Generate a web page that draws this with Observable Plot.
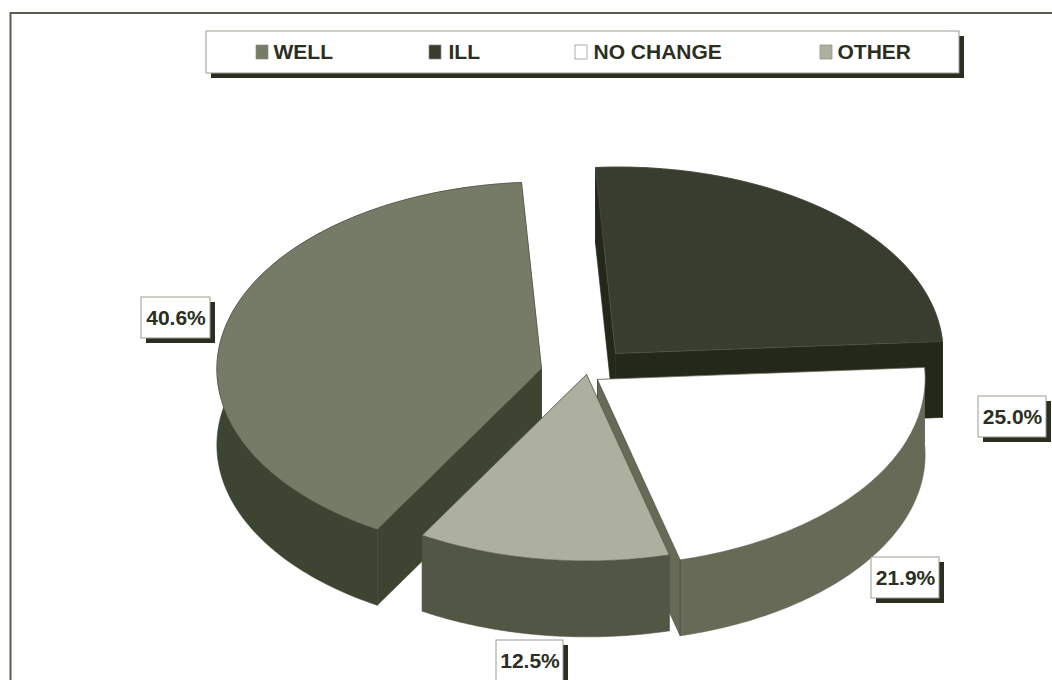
<!DOCTYPE html>
<html>
<head>
<meta charset="utf-8">
<script src="https://cdn.jsdelivr.net/npm/d3@7"></script>
<script src="https://cdn.jsdelivr.net/npm/@observablehq/plot@0.6"></script>
<style>
  html, body { margin: 0; padding: 0; background: #fff; }
  svg { display: block; }
</style>
</head>
<body>
<div id="chart"></div>
<script>
// Outcome shares, in the order the pie is dealt clockwise from twelve o'clock
const categories = ["ILL", "NO CHANGE", "OTHER", "WELL"];
const shares = [25.0, 21.9, 12.5, 40.6];

// Grey shades for each slice
const topShades = {"WELL": "#767b67", "ILL": "#393d2f", "NO CHANGE": "#ffffff", "OTHER": "#adb09e"};
const wallShades = {"WELL": "#3e4432", "ILL": "#24281b", "NO CHANGE": "#666a57", "OTHER": "#525644"};

// Where each slice's tip lands once the pie is pulled apart
const tips = {"ILL": [615, 353], "NO CHANGE": [597, 379], "OTHER": [586, 374], "WELL": [541, 368]};

const W = 1052, H = 680;
const depth = 76;
const ink = "#2b2f22";

// Tilted disc: angle is measured clockwise from the top, with mild foreshortening across the width
function project(name, turn, drop = 0) {
  const s = Math.sin(turn), c = Math.cos(turn);
  const k = 1 / (1 - 0.0046 * s);
  const [tx, ty] = tips[name];
  return [tx + k * (325.5 * s - 20 * c), ty + k * (-12 * s - 186 * c) + drop];
}

// Polygons for the slices, pushed back to front
const total = d3.sum(shares);
let running = 0;
const spans = {};
categories.forEach((name, i) => {
  const a0 = (running / total) * 2 * Math.PI;
  running += shares[i];
  spans[name] = [a0, (running / total) * 2 * Math.PI];
});

function rim(name, drop = 0) {
  const [a0, a1] = spans[name];
  return d3.range(0, 121).map(i => project(name, a0 + (a1 - a0) * i / 120, drop));
}
function tip(name, drop = 0) {
  return [tips[name][0], tips[name][1] + drop];
}

const polygons = [];
function addPolygon(id, fill, stroke, pts) {
  [...pts, pts[0]].forEach(([x, y]) => polygons.push({id, fill, stroke, x, y}));
}
function addSlice(name) {
  const top = rim(name), bottom = rim(name, depth);
  const wall = wallShades[name];
  // the white slice keeps a dark seam where its closing cut face meets the outer wall
  const seam = name === "NO CHANGE" ? "#33372a" : wall;
  addPolygon(name + " wall", wall, wall, [...top, ...bottom.slice().reverse()]);
  addPolygon(name + " start face", wall, wall, [tip(name), top[0], bottom[0], tip(name, depth)]);
  addPolygon(name + " end face", wall, seam, [tip(name), top[120], bottom[120], tip(name, depth)]);
  addPolygon(name + " lid", topShades[name], "#55594a", [tip(name), ...top]);
}
["ILL", "NO CHANGE", "WELL", "OTHER"].forEach(addSlice);

// Legend and value callouts
const legendLayout = [
  {name: "WELL", swatch: 256, text: 273},
  {name: "ILL", swatch: 429, text: 448},
  {name: "NO CHANGE", swatch: 575, text: 593},
  {name: "OTHER", swatch: 820, text: 837}
];
const callouts = [
  {name: "WELL", x1: 141, x2: 210, y1: 297, y2: 338},
  {name: "ILL", x1: 978, x2: 1046, y1: 396, y2: 437},
  {name: "NO CHANGE", x1: 871, x2: 939, y1: 557, y2: 598},
  {name: "OTHER", x1: 496, x2: 563, y1: 640, y2: 681}
].map(d => ({...d, label: shares[categories.indexOf(d.name)].toFixed(1) + "%"}));
const legendBox = [{x1: 206, x2: 959, y1: 31, y2: 73}];

const font = "'Liberation Sans', Arial, sans-serif";
const shadow = 5;

const chart = Plot.plot({
  width: W,
  height: H,
  margin: 0,
  style: {background: "#fff", fontFamily: font},
  x: {domain: [0, W], range: [0, W], axis: null},
  y: {domain: [0, H], range: [0, H], axis: null},
  color: {type: "identity"},
  marks: [
    // open frame: top and left edges only
    Plot.ruleY([12.5], {x1: 10, x2: W, stroke: "#5a5e50", strokeWidth: 2}),
    Plot.ruleX([10], {y1: 12, y2: H, stroke: "#5a5e50", strokeWidth: 2}),

    Plot.line(polygons, {x: "x", y: "y", z: "id", fill: "fill", stroke: "stroke", strokeWidth: 0.6, curve: "linear"}),

    // legend panel with its drop shadow
    Plot.rect(legendBox, {x1: d => d.x1 + shadow, x2: d => d.x2 + shadow, y1: d => d.y1 + shadow, y2: d => d.y2 + shadow, fill: ink}),
    Plot.rect(legendBox, {x1: "x1", x2: "x2", y1: "y1", y2: "y2", fill: "#fff", stroke: "#9a9c90", strokeWidth: 1}),
    Plot.rect(legendLayout, {
      x1: "swatch", x2: d => d.swatch + 12, y1: 45, y2: 59,
      fill: d => topShades[d.name], stroke: "#8a8d7e", strokeWidth: 0.7
    }),
    Plot.text(legendLayout, {
      x: "text", y: 52, text: "name", textAnchor: "start", fontSize: 21, fontWeight: "bold", fill: ink
    }),

    // value callouts with drop shadows
    Plot.rect(callouts, {x1: d => d.x1 + shadow, x2: d => d.x2 + shadow, y1: d => d.y1 + shadow, y2: d => d.y2 + shadow, fill: ink}),
    Plot.rect(callouts, {x1: "x1", x2: "x2", y1: "y1", y2: "y2", fill: "#fff", stroke: "#9a9c90", strokeWidth: 1}),
    Plot.text(callouts, {
      x: d => (d.x1 + d.x2) / 2, y: d => (d.y1 + d.y2) / 2, text: "label",
      fontSize: 21, fontWeight: "bold", fill: ink
    })
  ]
});
document.getElementById("chart").append(chart);
</script>
</body>
</html>
